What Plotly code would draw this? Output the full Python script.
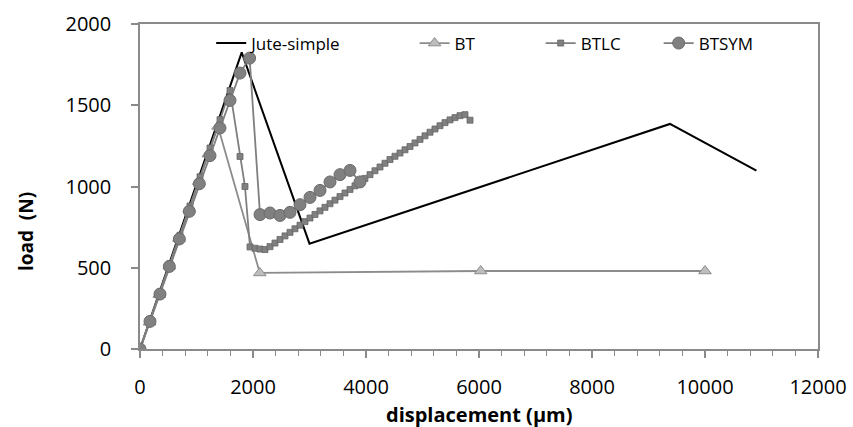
import plotly.graph_objects as go

# ---- data ----
jute_x = [0, 1800, 3000, 9380, 10910]
jute_y = [0, 1825, 648, 1385, 1097]

bt_x = [0, 170, 340, 520, 690, 870, 1040, 1210, 1380, 2120, 6030, 10000]
bt_y = [0, 165, 335, 510, 680, 860, 1030, 1200, 1370, 468, 480, 480]

btlc_x = [0, 177, 354, 531, 708, 885, 1062, 1239, 1416, 1593, 1770, 1858,
          1947, 2035, 2124, 2212,
          2301, 2389, 2478, 2566, 2655, 2743, 2832, 2920, 3009, 3097,
          3186, 3274, 3363, 3451, 3540, 3628, 3717, 3805, 3894, 3982,
          4071, 4159, 4248, 4336, 4425, 4513, 4602, 4690, 4779, 4867,
          4956, 5044, 5133, 5221, 5310, 5398, 5487, 5575, 5664, 5752, 5841]
btlc_y = [0, 175, 350, 525, 700, 880, 1060, 1237, 1411, 1591, 1185, 1000,
          628, 620, 615, 612,
          630, 652, 674, 696, 718, 740, 762, 784, 806, 828,
          850, 872, 894, 916, 938, 960, 982, 1004, 1027, 1050,
          1073, 1097, 1120, 1143, 1166, 1186, 1206, 1226, 1246, 1268,
          1290, 1312, 1334, 1354, 1374, 1393, 1410, 1424, 1436, 1442, 1408]

btsym_x = [0, 177, 354, 519, 696, 873, 1050, 1239, 1416, 1593, 1770, 1940,
           2124, 2301, 2478, 2655, 2832, 3009, 3186, 3363, 3540, 3717, 3894]
btsym_y = [0, 170, 338, 508, 677, 847, 1017, 1190, 1360, 1530, 1698, 1790,
           827, 837, 822, 841, 888, 933, 976, 1028, 1073, 1099, 1028]

x_ticks = [0, 2000, 4000, 6000, 8000, 10000, 12000]
y_ticks = [0, 500, 1000, 1500, 2000]

FONT = "Open Sans"
AXIS_COL = "#8a8a8a"

fig = go.Figure()

fig.add_trace(go.Scatter(
    x=jute_x, y=jute_y, name="Jute-simple", mode="lines",
    line=dict(color="#000000", width=2), legend="legend", showlegend=True))

fig.add_trace(go.Scatter(
    x=bt_x, y=bt_y, name="BT", mode="lines+markers",
    line=dict(color="#8c8c8c", width=1.8),
    marker=dict(symbol="triangle-up", size=11, color="#bdbdbd",
                line=dict(color="#8c8c8c", width=1)),
    legend="legend2", showlegend=True))

fig.add_trace(go.Scatter(
    x=btlc_x, y=btlc_y, name="BTLC", mode="lines+markers",
    line=dict(color="#7f7f7f", width=1.8),
    marker=dict(symbol="square", size=6, color="#808080",
                line=dict(color="#666666", width=0.8)),
    legend="legend3", showlegend=True))

fig.add_trace(go.Scatter(
    x=btsym_x, y=btsym_y, name="BTSYM", mode="lines+markers",
    line=dict(color="#7f7f7f", width=1.8),
    marker=dict(symbol="circle", size=12, color="#808080",
                line=dict(color="#6a6a6a", width=1)),
    legend="legend4", showlegend=True))

leg_common = dict(orientation="h", yanchor="middle", xanchor="left",
                  bgcolor="rgba(0,0,0,0)", borderwidth=0,
                  font=dict(family=FONT, size=17, color="#000000"))

fig.update_layout(
    width=853, height=427,
    margin=dict(l=140, r=35, t=24, b=78),
    paper_bgcolor="white", plot_bgcolor="white",
    showlegend=True,
    font=dict(family=FONT, size=18, color="#000000"),
    legend=dict(x=0.105, y=0.94, **leg_common),
    legend2=dict(x=0.405, y=0.94, **leg_common),
    legend3=dict(x=0.591, y=0.94, **leg_common),
    legend4=dict(x=0.765, y=0.94, **leg_common),
    xaxis=dict(
        range=[0, 12000], tickvals=x_ticks, ticktext=[str(v) for v in x_ticks],
        showgrid=False, zeroline=False, automargin=False,
        showline=True, linecolor=AXIS_COL, linewidth=1.5, mirror=True,
        ticks="outside", ticklen=7, tickcolor=AXIS_COL, tickwidth=1.5,
        minor=dict(dtick=400, ticks="outside", ticklen=5,
                   tickcolor=AXIS_COL, tickwidth=1.2, showgrid=False),
        tickfont=dict(family=FONT, size=20, color="#000000"),
        ticklabelstandoff=12,
    ),
    yaxis=dict(
        range=[0, 2000], tickvals=y_ticks, ticktext=[str(v) for v in y_ticks],
        showgrid=False, zeroline=False, automargin=False,
        showline=True, linecolor=AXIS_COL, linewidth=1.5, mirror=True,
        ticks="outside", ticklen=7, tickcolor=AXIS_COL, tickwidth=1.5,
        tickfont=dict(family=FONT, size=20, color="#000000"),
        ticklabelstandoff=16,
    ),
    annotations=[
        dict(text="<b>load  (N)</b>", textangle=-90,
             xref="paper", yref="paper", x=-0.169, y=0.361,
             xanchor="center", yanchor="middle", showarrow=False,
             font=dict(family=FONT, size=19, color="#000000")),
        dict(text="<b>displacement (µm)</b>",
             xref="paper", yref="paper", x=0.5, y=-0.2,
             xanchor="center", yanchor="middle", showarrow=False,
             font=dict(family=FONT, size=20, color="#000000")),
    ],
)

fig.write_html("out.html",
               config={"displayModeBar": False},
               post_script="document.body.style.margin='0px';"
                           "document.body.style.padding='0px';"
                           "document.body.style.overflow='hidden';")
